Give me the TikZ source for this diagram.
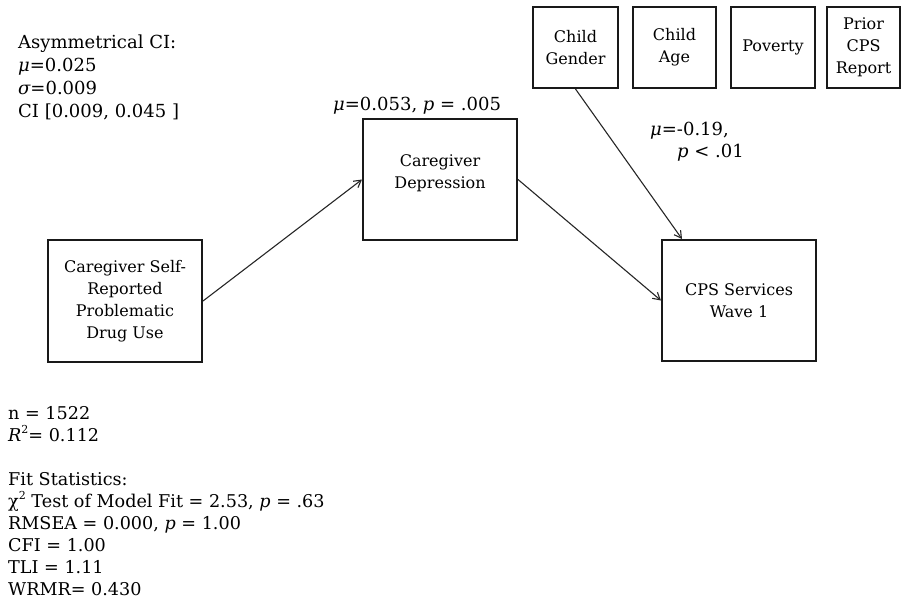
\documentclass[tikz,border=0pt]{standalone}
\usepackage{fontspec}
\setmainfont{DejaVu Serif}
\usetikzlibrary{arrows.meta}
\begin{document}
\begin{tikzpicture}[x=1pt,y=-1pt,
  varbox/.style={draw=black!90, line width=2pt, align=center, inner sep=2pt,
    font=\fontsize{16}{22}\selectfont},
  covbox/.style={varbox, minimum height=81pt},
  path/.style={draw=black!85, line width=1.1pt, -{Straight Barb[length=7pt,width=8pt,line width=1.1pt]}},
  note/.style={align=left, inner sep=0pt, anchor=base west},
  coef/.style={inner sep=0pt, anchor=base west, font=\fontsize{18}{22}\selectfont}
]
\useasboundingbox (0,0) rectangle (902,600);

% main path model
\node[varbox, minimum width=154pt, minimum height=122pt] (drug) at (125,301)
  {Caregiver Self-\\Reported\\Problematic\\Drug Use};
\node[varbox, minimum width=154pt, minimum height=121pt] (dep) at (440,179.5)
  {Caregiver\\Depression\\[-6pt]};
\node[varbox, minimum width=154pt, minimum height=121pt] (cps) at (739,300.5)
  {CPS Services\\Wave 1};

% covariates
\node[covbox, minimum width=85pt] (gender) at (575.5,47.5) {Child\\Gender};
\node[covbox, minimum width=83pt] (age) at (674.5,47.5) {Child\\Age};
\node[covbox, minimum width=84pt] (pov) at (773,47.5) {Poverty};
\node[covbox, minimum width=73pt] (prior) at (863.5,47.5) {Prior\\CPS\\Report};

% paths
\draw[path] (drug.east) -- (dep.west);
\draw[path] (dep.east) -- (cps.west);
\draw[path] (gender.south) -- ([xshift=21pt]cps.north west);

% coefficients
\node[coef] (a) at (333,110) {{\itshape μ}=0.053, {\itshape p} = .005};
\node[coef] (b) at (650,135) {{\itshape μ}=-0.19,};
\node[coef] (c) at (677,157) {{\itshape p} < .01};

% indirect effect (node base = last line)
\node[note, font=\fontsize{18}{23}\selectfont] (ci) at (18,117)
  {Asymmetrical CI:\\{\itshape μ}=0.025\\{\itshape σ}=0.009\\CI [0.009, 0.045 ]};

% sample and fit (node base = last line)
\node[note, font=\fontsize{17.6}{22}\selectfont] (fit) at (8,595)
  {n = 1522\\{\itshape R}\raisebox{0.45em}{\fontsize{11}{11}\selectfont 2}= 0.112\\[22pt]Fit Statistics:\\χ\raisebox{0.45em}{\fontsize{11}{11}\selectfont 2} Test of Model Fit = 2.53, {\itshape p} = .63\\RMSEA = 0.000, {\itshape p} = 1.00\\CFI = 1.00\\TLI = 1.11\\WRMR= 0.430};
\end{tikzpicture}
\end{document}
